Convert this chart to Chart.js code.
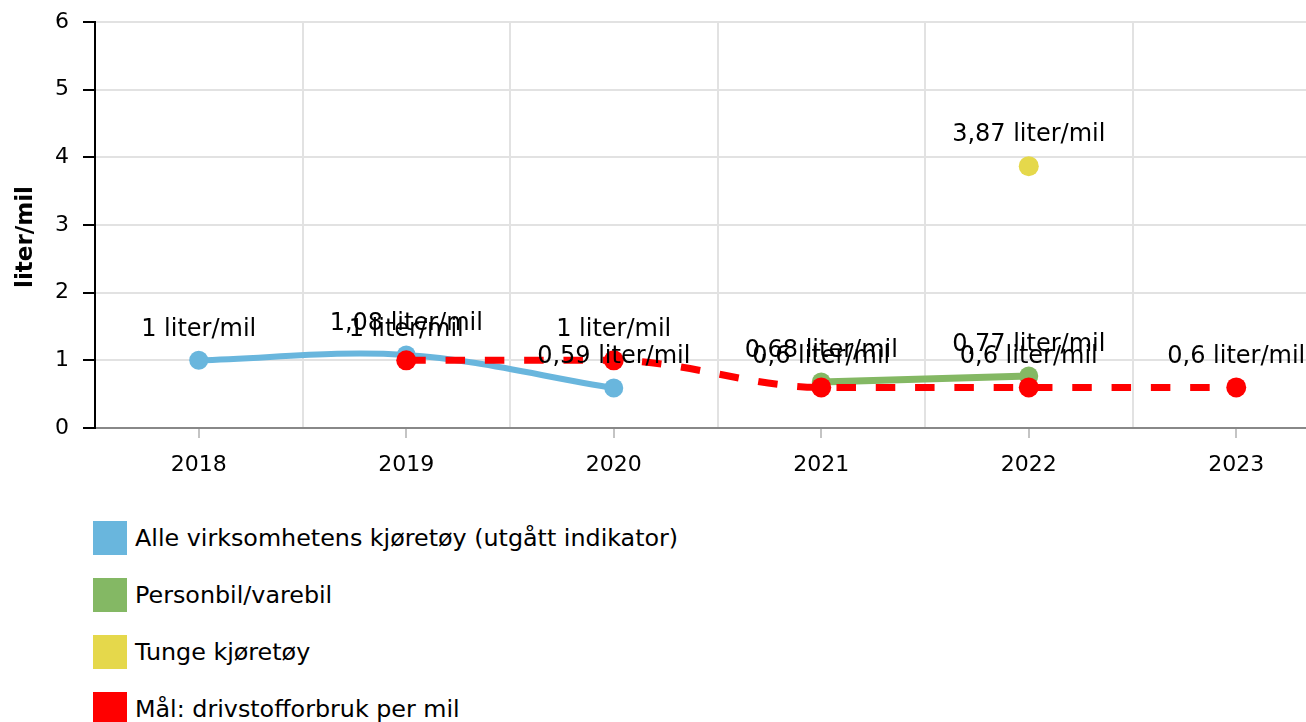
<!DOCTYPE html>
<html lang="no">
<head>
<meta charset="utf-8">
<title>Drivstofforbruk per mil</title>
<script src="https://cdn.jsdelivr.net/npm/chart.js@4.4.1/dist/chart.umd.min.js"></script>
<style>
  html, body { margin: 0; padding: 0; background: #fff; overflow: hidden; }
  body { width: 1306px; height: 722px; position: relative; font-family: "DejaVu Sans", Verdana, sans-serif; }
  #wrap { position: absolute; left: 0; top: 0; width: 1350px; height: 500px; }
  #legend { position: absolute; left: 93px; top: 521px; }
  .item { display: flex; align-items: center; height: 34px; margin-bottom: 23px; font-size: 23.8px; color: #000; white-space: nowrap; }
  .box { width: 34px; height: 34px; margin-right: 8px; flex: none; }
</style>
</head>
<body>
<div id="wrap"><canvas id="chart" width="1350" height="500"></canvas></div>
<div id="legend"></div>
<script>
// ===== Data =====
var years = ['2018', '2019', '2020', '2021', '2022', '2023'];
var alleValues = [1, 1.08, 0.59, null, null, null];
var personValues = [null, null, null, 0.68, 0.77, null];
var tungeValues = [null, null, null, null, 3.87, null];
var malValues = [null, 1, 1, 0.6, 0.6, 0.6];
var yTicks = [0, 1, 2, 3, 4, 5, 6];

var BLUE = '#69b6dd';
var GREEN = '#84b864';
var YELLOW = '#e5d84b';
var RED = '#ff0000';
var FONT = '"DejaVu Sans", Verdana, sans-serif';

function fmt(v) {
  return String(v).replace('.', ',') + ' liter/mil';
}

// ===== Value labels above points =====
var valueLabels = {
  id: 'valueLabels',
  afterDatasetsDraw: function(chart) {
    var ctx = chart.ctx;
    ctx.save();
    ctx.font = '24px ' + FONT;
    ctx.fillStyle = '#000';
    ctx.textAlign = 'center';
    ctx.textBaseline = 'middle';
    chart.data.datasets.forEach(function(ds, i) {
      var meta = chart.getDatasetMeta(i);
      meta.data.forEach(function(pt, j) {
        var v = ds.data[j];
        if (v === null || v === undefined) return;
        ctx.fillText(fmt(v), pt.x, pt.y - 31);
      });
    });
    ctx.restore();
  }
};

var chart = new Chart(document.getElementById('chart'), {
  type: 'line',
  data: {
    labels: years,
    datasets: [
      {
        label: 'Alle virksomhetens kjøretøy (utgått indikator)',
        data: alleValues,
        borderColor: BLUE, backgroundColor: BLUE,
        pointBackgroundColor: BLUE,
        borderWidth: 6, pointRadius: 9.5, pointBorderWidth: 0,
        tension: 0.35, order: 3
      },
      {
        label: 'Personbil/varebil',
        data: personValues,
        borderColor: GREEN, backgroundColor: GREEN,
        pointBackgroundColor: GREEN,
        borderWidth: 7, pointRadius: 9.5, pointBorderWidth: 0,
        order: 2
      },
      {
        label: 'Tunge kjøretøy',
        data: tungeValues,
        borderColor: YELLOW, backgroundColor: YELLOW,
        pointBackgroundColor: YELLOW,
        showLine: false, pointRadius: 10, pointBorderWidth: 0,
        order: 1
      },
      {
        label: 'Mål: drivstofforbruk per mil',
        data: malValues,
        borderColor: RED, backgroundColor: RED,
        pointBackgroundColor: RED,
        borderWidth: 7, borderDash: [19.5, 19.8], pointRadius: 10, pointBorderWidth: 0,
        tension: 0.4, cubicInterpolationMode: 'monotone',
        order: 0
      }
    ]
  },
  options: {
    responsive: false,
    devicePixelRatio: 1,
    animation: false,
    layout: { padding: { top: 22, right: 0, left: 0, bottom: 0 } },
    plugins: {
      legend: { display: false },
      tooltip: { enabled: false }
    },
    scales: {
      x: {
        offset: true,
        weight: 1,
        grid: { offset: true, color: '#e2e2e2', lineWidth: 2, drawTicks: false },
        border: { display: true, color: '#888', width: 2 },
        ticks: { color: '#000', font: { size: 22, family: FONT }, padding: 24, maxRotation: 0 },
        afterFit: function(s) { s.height = 72; s.paddingLeft = 0; s.paddingRight = 0; }
      },
      xTicks: {
        type: 'category',
        position: 'bottom',
        offset: true,
        weight: 0,
        grid: { offset: false, drawOnChartArea: false, drawTicks: true, tickLength: 10, color: '#c4c4c4', lineWidth: 2 },
        border: { display: false },
        ticks: { display: false },
        afterFit: function(s) { s.height = 0; s.paddingLeft = 0; s.paddingRight = 0; }
      },
      y: {
        min: yTicks[0],
        max: yTicks[yTicks.length - 1],
        afterBuildTicks: function(s) {
          s.ticks = yTicks.map(function(v) { return { value: v }; });
        },
        ticks: { color: '#000', font: { size: 22, family: FONT }, padding: 14 },
        grid: { color: '#e2e2e2', lineWidth: 2, tickColor: '#000', tickLength: 12, tickWidth: 2 },
        border: { display: true, color: '#000', width: 2 },
        title: {
          display: true,
          // trailing spaces nudge the rotated title slightly down, like the original
          text: 'liter/mil   ',
          color: '#000',
          font: { size: 23, weight: 'bold', family: FONT },
          padding: { top: 12, bottom: 0 }
        },
        afterFit: function(s) { s.width = 95; s.paddingTop = 0; s.paddingBottom = 0; }
      }
    }
  },
  plugins: [valueLabels]
});

// ===== HTML legend =====
var legendEl = document.getElementById('legend');
chart.data.datasets.forEach(function(ds) {
  var item = document.createElement('div');
  item.className = 'item';
  var box = document.createElement('span');
  box.className = 'box';
  box.style.background = ds.borderColor;
  var txt = document.createElement('span');
  txt.textContent = ds.label;
  item.appendChild(box);
  item.appendChild(txt);
  legendEl.appendChild(item);
});
</script>
</body>
</html>
